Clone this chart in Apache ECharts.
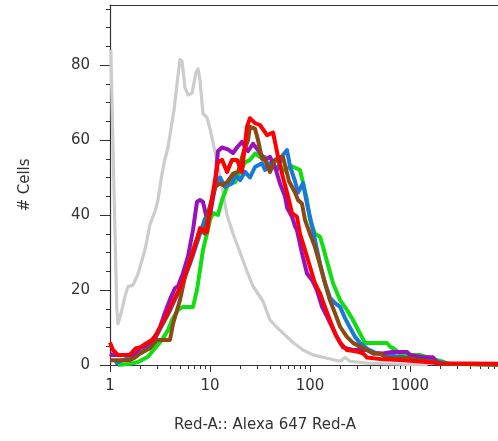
<!DOCTYPE html>
<html>
<head>
<meta charset="utf-8">
<script src="https://cdn.jsdelivr.net/npm/echarts@6/dist/echarts.min.js"></script>
<style>
html,body{margin:0;padding:0;background:#fff;}
#chart{width:498px;height:441px;}
</style>
</head>
<body>
<div id="chart"></div>
<script>
// ---- data (intensity, # cells) ----
var grayData = [[1.02,84],[1.10,45],[1.17,15],[1.20,11],[1.29,13.8],[1.41,18.2],[1.51,20.9],[1.70,21.3],[1.91,24.4],[2.14,28.9],[2.29,32],[2.51,37.5],[2.82,41],[3.02,44],[3.31,51],[3.55,55],[3.80,58],[4.07,63],[4.37,68],[4.68,75],[5.01,81.5],[5.25,81],[5.62,74],[6.03,72],[6.61,72.5],[7.24,78],[7.59,79],[7.94,76],[8.51,67],[9.33,66],[10,63],[11.2,57],[12.6,50],[14.8,40],[17.0,35],[20.0,30],[23.4,25],[26.9,21],[33.9,17],[39.8,12],[46.8,10],[53.7,8.5],[67.6,6],[85.1,4],[107,2.7],[148,1.8],[200,1],[224,2],[251,1],[372,0.5],[794,0.2],[1500,0]];
var greenData = [[1.20,0],[1.58,0.3],[1.91,0.8],[2.40,2.2],[2.82,4.5],[3.31,6.7],[3.80,9.3],[4.17,12],[4.79,14.7],[5.37,15.5],[6.76,15.5],[7.41,20],[7.94,25.3],[8.51,30.7],[9.33,35],[10,38.7],[10.7,40.5],[12.0,40],[13.2,44],[14.8,47.5],[15.8,49],[17.8,48.7],[20.0,51.7],[22.4,54],[25.1,54.7],[28.2,56.4],[31.6,55.5],[35.5,55.5],[39.8,51.7],[42.7,54],[47.9,54.7],[53.7,51.7],[58.9,52.4],[66.1,53],[79.4,52],[85.1,48.7],[93.3,44],[100,38.7],[112,35],[126,34.2],[135,31.5],[151,26.7],[170,21.8],[200,17.3],[234,14.7],[269,12],[316,8.4],[355,5.9],[589,5.9],[631,4.9],[676,4.5],[794,3.1],[1072,2.7],[1259,2.7],[1585,1.8],[2138,0.9],[2399,0.3],[7586,0]];
var blueData = [[1.12,0.3],[1.26,1],[1.41,1.5],[1.58,2],[1.78,2.5],[2.00,3.1],[2.24,4],[2.51,5.3],[2.82,7],[3.16,9.5],[3.55,12],[3.98,14.5],[4.47,17.5],[5.01,20],[5.62,23.5],[6.31,27],[7.08,31],[7.94,35],[8.91,39],[10,41],[10.7,45],[11.7,49],[12.6,50],[14.1,47.5],[16.6,48.4],[17.8,50.7],[20.0,49.3],[22.4,51.5],[25.1,50],[28.2,52.8],[33.1,53.8],[35.5,52],[39.8,53.8],[46.8,52],[53.7,56],[58.9,57.3],[63.1,53],[70.8,49],[75.9,46],[85.1,48.5],[93.3,43],[100,39.5],[107,36],[117,31],[126,27],[141,22],[158,18],[178,16.5],[200,15.5],[224,12.5],[251,10],[282,7.5],[316,5.9],[372,4.3],[447,3.3],[562,2.7],[794,2.2],[1259,1.5],[1995,0.8],[2512,0.3],[7586,0.2]];
var purpleData = [[1.0,3],[1.05,2.7],[1.78,2.7],[2.00,4.5],[2.40,5.5],[2.82,7.5],[3.16,10],[3.55,14],[3.98,17.5],[4.47,20.5],[4.79,21],[5.37,24.5],[6.03,29],[6.76,36],[7.41,43.5],[7.94,44],[8.51,43.5],[9.12,40],[10,40],[11.2,47.5],[12.0,57],[13.2,58],[15.1,57.5],[17.0,56.5],[18.6,58],[20.9,59.5],[24.0,57],[26.9,59],[30.2,57.3],[35.5,54.7],[39.8,55.5],[44.7,52.8],[50.1,48.4],[56.2,45],[58.9,42],[66.1,39.5],[70.8,37],[74.1,36],[83.2,29.8],[93.3,24.4],[105,22.6],[117,20],[132,15.5],[148,12.9],[166,10.2],[186,7.5],[214,4.7],[269,4],[372,4],[427,3.1],[537,3.1],[661,3.5],[933,3.5],[1000,2.7],[1349,2.1],[1698,2.1],[1862,0.6],[1995,0.3],[7586,0.2]];
var brownData = [[1.0,1.3],[1.05,1.3],[1.58,1.3],[1.78,2],[2.00,3.1],[2.51,4.5],[2.95,6.7],[3.98,6.7],[4.27,11],[5.01,17.3],[5.62,23.5],[6.03,26.7],[6.76,30.7],[7.94,36],[8.91,35],[9.55,40.4],[11.2,47.5],[12.6,48.4],[13.5,48],[15.1,49],[17.0,51],[19.1,51.5],[21.4,56.4],[24.0,60],[25.1,63.5],[28.2,63],[30.2,60],[33.1,55],[35.5,54.7],[39.8,51.5],[44.7,54.7],[50.1,55.5],[53.7,55.5],[61.7,49],[70.8,46],[75.9,44],[83.2,43],[89.1,38.7],[100,35],[112,31.5],[126,26.7],[141,21.8],[158,17.3],[178,13.8],[200,10.2],[234,7.5],[269,5.9],[316,4.9],[372,4],[427,3.1],[501,3.1],[589,1.8],[1000,1.8],[1259,1.3],[1698,0.9],[1995,0.3],[7586,0.2]];
var redData = [[1.0,6],[1.02,6],[1.07,4],[1.20,2.7],[1.58,2.7],[1.82,4.5],[2.00,4.7],[2.34,5.9],[2.63,6.7],[2.95,8.4],[3.31,11.1],[3.72,13.3],[4.17,16.4],[4.68,19],[5.25,21.8],[5.89,25.3],[6.76,29.8],[7.41,33.3],[7.94,36.5],[8.51,36],[9.33,35.5],[10.7,46],[12.0,54],[13.2,54.7],[14.8,51.5],[16.6,54.7],[18.6,54.7],[20.9,51.5],[23.4,63.5],[25.1,65.8],[28.2,64.5],[31.6,64],[37.2,61.3],[42.7,62],[47.9,55.5],[53.7,50],[60.3,45],[66.1,40.5],[74.1,39.5],[79.4,35],[89.1,30.7],[100,26.2],[112,21.8],[126,19.1],[141,15.5],[158,12],[178,8.4],[200,5.9],[234,4],[295,3.6],[339,3.1],[372,2],[537,1.5],[794,1.3],[1259,0.9],[1862,0.5],[7586,0.3]];

var xMajorTicks = [1, 10, 100, 1000];
var xMinorTicks = [2,3,4,5,6,7,8,9,20,30,40,50,60,70,80,90,200,300,400,500,600,700,800,900,2000,3000,4000,5000,6000,7000];
var yMajorTicks = [0, 20, 40, 60, 80];
var yMinorTicks = [5,10,15,25,30,35,45,50,55,65,70,75,85,90,95];

var xTitle = 'Red-A:: Alexa 647 Red-A';
var yTitle = '# Cells';

var FONT = 'DejaVu Sans';
var AXIS_COLOR = '#333';
var X_MIN = 1, X_MAX = 7586, Y_MIN = 0, Y_MAX = 96;

function mkSeries(name, data, color, width) {
  return {
    name: name, type: 'line', data: data, xAxisIndex: 0, yAxisIndex: 0,
    showSymbol: false, symbol: 'none', silent: true,
    lineStyle: { color: color, width: width, join: 'round' },
    emphasis: { disabled: true }
  };
}

var chart = echarts.init(document.getElementById('chart'), null, { renderer: 'canvas' });
chart.setOption({
  animation: false,
  backgroundColor: '#fff',
  grid: { left: 110, right: 0, top: 5, bottom: 76, containLabel: false },
  xAxis: [
    {
      type: 'log', logBase: 10, min: X_MIN, max: X_MAX, position: 'bottom',
      axisLine: { show: true, lineStyle: { color: AXIS_COLOR, width: 1.2 } },
      axisTick: { show: true, length: 7, lineStyle: { color: AXIS_COLOR }, customValues: xMajorTicks },
      axisLabel: { show: true, color: AXIS_COLOR, fontSize: 15, fontFamily: FONT, margin: 14, customValues: xMajorTicks,
        formatter: function (v) { return String(Math.round(v)); } },
      splitLine: { show: false }, minorTick: { show: false }
    },
    {
      type: 'log', logBase: 10, min: X_MIN, max: X_MAX, position: 'bottom',
      axisLine: { show: false },
      axisTick: { show: true, length: 4, lineStyle: { color: AXIS_COLOR }, customValues: xMinorTicks },
      axisLabel: { show: false }, splitLine: { show: false }
    },
    {
      type: 'value', min: 0, max: 1, position: 'top',
      axisLine: { show: true, lineStyle: { color: AXIS_COLOR, width: 1.2 } },
      axisTick: { show: false }, axisLabel: { show: false }, splitLine: { show: false }
    }
  ],
  yAxis: [
    {
      type: 'value', min: Y_MIN, max: Y_MAX, position: 'left',
      axisLine: { show: true, lineStyle: { color: AXIS_COLOR, width: 1.2 } },
      axisTick: { show: true, length: 10, lineStyle: { color: AXIS_COLOR }, customValues: yMajorTicks },
      axisLabel: { show: true, color: AXIS_COLOR, fontSize: 15, fontFamily: FONT, margin: 20, customValues: yMajorTicks },
      splitLine: { show: false }
    },
    {
      type: 'value', min: Y_MIN, max: Y_MAX, position: 'left',
      axisLine: { show: false },
      axisTick: { show: true, length: 4, lineStyle: { color: AXIS_COLOR }, customValues: yMinorTicks },
      axisLabel: { show: false }, splitLine: { show: false }
    }
  ],
  graphic: [
    { type: 'text', x: 265, y: 425, style: { text: xTitle, font: '15px "DejaVu Sans"', fill: AXIS_COLOR, textAlign: 'center', textVerticalAlign: 'middle' } },
    { type: 'text', x: 25, y: 185, rotation: Math.PI / 2, style: { text: yTitle, font: '15px "DejaVu Sans"', fill: AXIS_COLOR, textAlign: 'center', textVerticalAlign: 'middle' } }
  ],
  series: [
    mkSeries('control', grayData, '#cccccc', 3.2),
    mkSeries('green', greenData, '#11dd11', 4),
    mkSeries('blue', blueData, '#1a78d8', 4),
    mkSeries('purple', purpleData, '#9a10bb', 4),
    mkSeries('brown', brownData, '#8b4a12', 4),
    mkSeries('red', redData, '#ff0000', 4)
  ]
});
</script>
</body>
</html>
